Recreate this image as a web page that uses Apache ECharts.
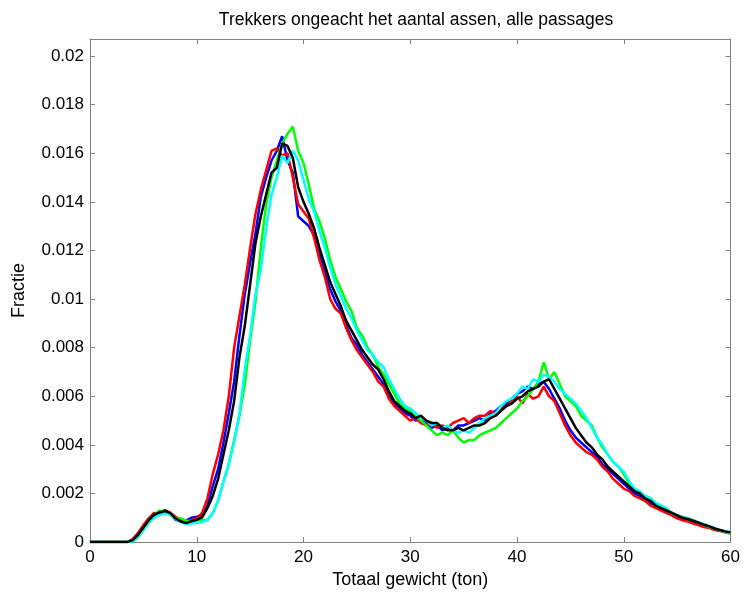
<!DOCTYPE html>
<html>
<head>
<meta charset="utf-8">
<script src="https://cdn.jsdelivr.net/npm/echarts@6/dist/echarts.min.js"></script>
<style>html,body{margin:0;padding:0;background:#fff}#c{width:743px;height:594px}</style>
</head>
<body>
<div id="c"></div>
<script>
// bin centres (ton), 0 .. 60 in 0.5 steps
var weights = [];
for (var i = 0; i <= 120; i++) weights.push(i * 0.5);

var blueVals = [0,0,0,0,0,0,0,0,0.0001,0.00035,0.00065,0.00095,0.00115,0.0012,0.00125,0.00118,0.00092,0.00085,0.00088,0.001,0.00104,0.0011,0.0015,0.0023,0.0030,0.0041,0.0053,0.0066,0.0085,0.0102,0.0115,0.0127,0.0142,0.0150,0.0157,0.0161,0.0167,0.0157,0.0152,0.0134,0.0132,0.0130,0.0126,0.0119,0.0111,0.0104,0.0099,0.0095,0.0089,0.0084,0.0081,0.0077,0.0074,0.0071,0.0068,0.0065,0.0060,0.0057,0.0055,0.0053,0.0052,0.0050,0.0051,0.0049,0.0047,0.0048,0.0046,0.0047,0.0046,0.0048,0.0048,0.0049,0.0050,0.0051,0.0050,0.0053,0.0054,0.0056,0.0057,0.0059,0.0061,0.0062,0.0064,0.0063,0.0065,0.0066,0.0063,0.0059,0.0055,0.0050,0.0046,0.0043,0.0041,0.0039,0.0037,0.0035,0.0032,0.0030,0.0028,0.0026,0.0024,0.0022,0.0020,0.0019,0.0017,0.0016,0.0015,0.0014,0.0012,0.0012,0.0010,0.00095,0.0009,0.0008,0.00072,0.00066,0.0006,0.00052,0.00048,0.00044,0.0004];

var redVals = [0,0,0,0,0,0,0,0,0.00012,0.00038,0.0007,0.00098,0.0012,0.00118,0.00132,0.00122,0.00105,0.00092,0.00082,0.0009,0.00098,0.0012,0.0018,0.0028,0.0036,0.0046,0.0060,0.0080,0.0093,0.0106,0.0121,0.0135,0.0145,0.0153,0.0161,0.0162,0.0159,0.0160,0.0150,0.0139,0.0136,0.0133,0.0125,0.0116,0.0109,0.0100,0.0096,0.0094,0.0088,0.0083,0.0079,0.0076,0.0073,0.0070,0.0066,0.0064,0.0059,0.0056,0.0054,0.0052,0.0050,0.0051,0.0049,0.0048,0.0049,0.0047,0.0048,0.0047,0.0049,0.0050,0.0051,0.0049,0.0051,0.0052,0.0052,0.0054,0.0053,0.0055,0.0056,0.0058,0.0060,0.0057,0.0061,0.0059,0.0060,0.0064,0.0060,0.0058,0.0053,0.0048,0.0044,0.0041,0.0039,0.0037,0.0036,0.0034,0.0031,0.0029,0.0026,0.0024,0.0022,0.0021,0.0019,0.0018,0.0017,0.0015,0.0014,0.0013,0.0012,0.0011,0.00098,0.0009,0.00085,0.00076,0.0007,0.00062,0.00058,0.0005,0.00046,0.0004,0.00036];

var greenVals = [0,0,0,0,0,0,0,0,0.00003,0.0002,0.0005,0.0008,0.0011,0.0013,0.00125,0.0012,0.0010,0.00098,0.00088,0.00086,0.0009,0.00092,0.0009,0.0012,0.0017,0.0025,0.0032,0.0042,0.0052,0.0065,0.0083,0.0099,0.0121,0.0139,0.0150,0.0157,0.0164,0.0168,0.0171,0.0161,0.0156,0.0147,0.0137,0.0132,0.0125,0.0116,0.0109,0.0104,0.0099,0.0095,0.0088,0.0085,0.0080,0.0077,0.0072,0.0069,0.0065,0.0061,0.0057,0.0055,0.0054,0.0052,0.0050,0.0048,0.0046,0.0044,0.0045,0.0044,0.0046,0.0043,0.0041,0.0042,0.0042,0.0044,0.0045,0.0046,0.0047,0.0049,0.0051,0.0053,0.0055,0.0058,0.0060,0.0063,0.0066,0.0074,0.0067,0.0070,0.0065,0.0060,0.0058,0.0056,0.0052,0.0050,0.0048,0.0043,0.0039,0.0036,0.0033,0.0031,0.0028,0.0024,0.0022,0.0020,0.0019,0.0018,0.0016,0.0015,0.0013,0.0012,0.0011,0.00102,0.00095,0.00088,0.0008,0.00072,0.00062,0.00055,0.00048,0.00042,0.00035];

var cyanVals = [0,0,0,0,0,0,0,0,0.00003,0.00022,0.0005,0.0008,0.001,0.00112,0.00118,0.00112,0.00095,0.00082,0.00074,0.00076,0.0008,0.00082,0.00092,0.0012,0.0017,0.0025,0.0032,0.0041,0.0053,0.0071,0.0085,0.0102,0.0112,0.0129,0.0143,0.0150,0.0159,0.0156,0.0161,0.0157,0.0149,0.0141,0.0136,0.0128,0.0121,0.0113,0.0106,0.0101,0.0096,0.0092,0.0087,0.0083,0.0079,0.0077,0.0074,0.0072,0.0067,0.0063,0.0059,0.0056,0.0055,0.0053,0.0051,0.0050,0.0048,0.0049,0.0047,0.0048,0.0046,0.0045,0.0046,0.0045,0.0047,0.0049,0.0051,0.0052,0.0053,0.0056,0.0058,0.0059,0.0061,0.0064,0.0063,0.0067,0.0066,0.0069,0.0068,0.0066,0.0063,0.0061,0.0059,0.0057,0.0054,0.0051,0.0047,0.0043,0.0040,0.0036,0.0033,0.0031,0.0029,0.0025,0.0022,0.0021,0.0019,0.0018,0.0016,0.0015,0.0014,0.0012,0.0011,0.00105,0.00098,0.0009,0.00082,0.00075,0.00066,0.00058,0.0005,0.00045,0.0004];

var blackVals = [0,0,0,0,0,0,0,0,0.00008,0.0003,0.0006,0.0009,0.00112,0.00122,0.00128,0.0012,0.00098,0.00085,0.00078,0.00086,0.00092,0.00102,0.0014,0.0019,0.0026,0.0036,0.0046,0.0058,0.0076,0.0089,0.0106,0.0123,0.0134,0.0143,0.0152,0.0154,0.0164,0.0163,0.0158,0.0146,0.0140,0.0135,0.0129,0.0121,0.0114,0.0107,0.0102,0.0097,0.0091,0.0087,0.0083,0.0079,0.0076,0.0073,0.0071,0.0067,0.0062,0.0058,0.0056,0.0054,0.0053,0.0051,0.0052,0.0050,0.0049,0.0049,0.0047,0.0046,0.0046,0.0047,0.0046,0.0047,0.0048,0.0048,0.0049,0.0051,0.0052,0.0054,0.0056,0.0057,0.0059,0.0060,0.0062,0.0063,0.0064,0.0066,0.0067,0.0063,0.0059,0.0055,0.0051,0.0047,0.0044,0.0041,0.0039,0.0036,0.0034,0.0031,0.0029,0.0027,0.0025,0.0023,0.0021,0.0020,0.0018,0.0017,0.0015,0.0014,0.0013,0.0012,0.0011,0.0010,0.00095,0.00088,0.0008,0.00072,0.00065,0.00056,0.0005,0.00044,0.0004];

var xTicks = [0, 10, 20, 30, 40, 50, 60];
var yTicks = [0, 0.002, 0.004, 0.006, 0.008, 0.01, 0.012, 0.014, 0.016, 0.018, 0.02];

var titleText = 'Trekkers ongeacht het aantal assen, alle passages';
var xName = 'Totaal gewicht (ton)';
var yName = 'Fractie';

function pairs(vals) {
  return weights.map(function (w, i) { return [w, vals[i]]; });
}

var FONT = 'Liberation Sans, Arial, sans-serif';
var axisGrey = '#808080';

var chart = echarts.init(document.getElementById('c'), null, {renderer: 'canvas'});
var seriesDefs = [
  {name: 'blue', color: '#0000ff', vals: blueVals},
  {name: 'red', color: '#ff0000', vals: redVals},
  {name: 'green', color: '#00ff00', vals: greenVals},
  {name: 'cyan', color: '#00ffff', vals: cyanVals},
  {name: 'black', color: '#000000', vals: blackVals}
];

function frameAxis(extra) {
  var base = {
    type: 'value',
    axisLine: {show: true, onZero: false, lineStyle: {color: axisGrey, width: 1}},
    axisTick: {show: true, inside: true, length: 5, lineStyle: {color: axisGrey}},
    axisLabel: {show: false}, splitLine: {show: false}
  };
  for (var k in extra) base[k] = extra[k];
  return base;
}

chart.setOption({
  animation: false,
  backgroundColor: '#ffffff',
  title: {
    text: titleText, left: 411, textAlign: 'center', top: 6,
    textStyle: {fontFamily: FONT, fontSize: 17.5, fontWeight: 'normal', color: '#000'}
  },
  grid: {left: 90, right: 11, top: 39, bottom: 46, containLabel: false},
  xAxis: [
    frameAxis({
      min: 0, max: 60, interval: 10, position: 'bottom',
      name: xName, nameLocation: 'middle', nameGap: 26,
      nameTextStyle: {fontFamily: FONT, fontSize: 18, color: '#000'},
      axisLabel: {show: true, fontFamily: FONT, fontSize: 17, color: '#000', margin: 7,
        formatter: function (v) { return xTicks.indexOf(v) >= 0 ? String(v) : ''; }}
    }),
    frameAxis({min: 0, max: 60, interval: 10, position: 'top'})
  ],
  yAxis: [
    frameAxis({
      min: 0, max: 0.0207, interval: 0.002, position: 'left',
      name: yName, nameLocation: 'middle', nameGap: 62, nameRotate: 90,
      nameTextStyle: {fontFamily: FONT, fontSize: 18, color: '#000'},
      axisLabel: {show: true, fontFamily: FONT, fontSize: 17, color: '#000', margin: 6, showMaxLabel: false,
        formatter: function (v) {
          for (var k = 0; k < yTicks.length; k++) {
            if (Math.abs(yTicks[k] - v) < 1e-9) return String(yTicks[k]);
          }
          return '';
        }}
    }),
    frameAxis({min: 0, max: 0.0207, interval: 0.002, position: 'right'})
  ],
  series: seriesDefs.map(function (s) {
    return {
      name: s.name, type: 'line', xAxisIndex: 0, yAxisIndex: 0,
      data: pairs(s.vals), showSymbol: false, symbol: 'none',
      lineStyle: {color: s.color, width: 2.5}, itemStyle: {color: s.color},
      z: 2
    };
  })
});
</script>
</body>
</html>
